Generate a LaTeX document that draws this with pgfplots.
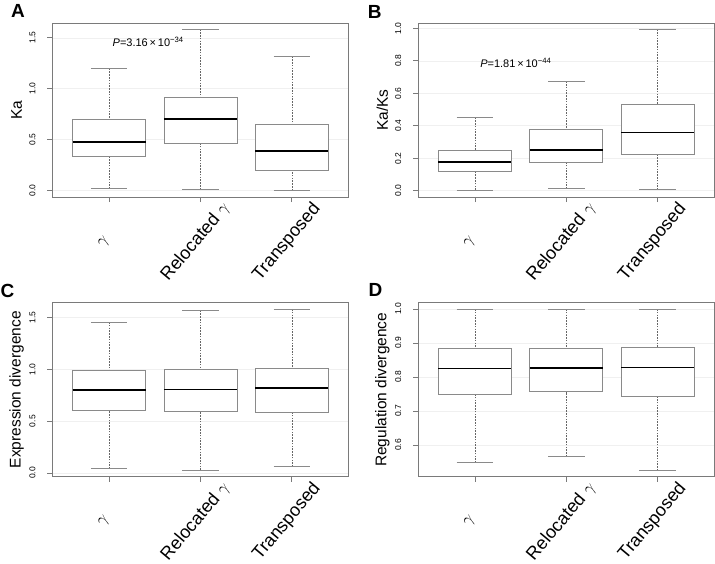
\documentclass[border=0pt]{standalone}
\usepackage{fontspec}
\setmainfont{Liberation Sans}
\usepackage{pgfplots}
\pgfplotsset{compat=1.18}
\usepgfplotslibrary{statistics}
\definecolor{framegray}{HTML}{7A7A7A}
\definecolor{boxgray}{HTML}{8A8A8A}
\definecolor{whiskgray}{HTML}{666666}
\pgfplotsset{
  boxplot/draw/lower whisker/.code={%
    \draw[whiskgray, line width=0.5pt, dash pattern=on 1.6pt off 1.2pt]
      (boxplot box cs:\pgfplotsboxplotvalue{lower whisker},0.5) --
      (boxplot box cs:\pgfplotsboxplotvalue{lower quartile},0.5);
    \draw[boxgray, line width=0.8pt]
      (boxplot whisker cs:\pgfplotsboxplotvalue{lower whisker},0) --
      (boxplot whisker cs:\pgfplotsboxplotvalue{lower whisker},1);
  },
  boxplot/draw/upper whisker/.code={%
    \draw[whiskgray, line width=0.5pt, dash pattern=on 1.6pt off 1.2pt]
      (boxplot box cs:\pgfplotsboxplotvalue{upper whisker},0.5) --
      (boxplot box cs:\pgfplotsboxplotvalue{upper quartile},0.5);
    \draw[boxgray, line width=0.8pt]
      (boxplot whisker cs:\pgfplotsboxplotvalue{upper whisker},0) --
      (boxplot whisker cs:\pgfplotsboxplotvalue{upper whisker},1);
  },
  panel/.style={
    scale only axis, width=296pt, height=174pt,
    anchor=north west,
    xmin=0.38, xmax=3.62,
    xtick={1,2,3},
    xticklabels={$\gamma$, Relocated $\gamma$, Transposed},
    axis line style={framegray, line width=0.8pt},
    tick style={framegray, line width=0.8pt},
    tick align=outside,
    major tick length=5pt,
    xtick pos=bottom, ytick pos=left,
    ymajorgrids, major grid style={gray!12, line width=0.5pt},
    tick label style={font=\fontsize{8.5}{9}\selectfont},
    xticklabel style={font=\fontsize{18}{20}\selectfont, xshift=-5pt, yshift=-40pt, rotate=50, anchor=center},
    yticklabel style={xshift=-15pt, rotate=90, anchor=center},
    /pgf/number format/.cd, fixed, fixed zerofill, precision=1, assume math mode=true, /pgfplots/.cd,
    every axis y label/.style={at={(rel axis cs:0,0.5)}, xshift=-36pt, rotate=90, anchor=center, font=\fontsize{15.5}{17}\selectfont},
    boxplot/draw direction=y,
    boxplot/box extend=0.8, boxplot/whisker extend=0.4,
    boxplot/every box/.style={draw=boxgray, fill=white, line width=0.8pt},
    boxplot/every median/.style={black, line width=1.6pt},
  },
}
\begin{document}
\begin{tikzpicture}
\useasboundingbox (0,0) rectangle (715pt,-563pt);
% Panel A
\begin{axis}[panel, at={(52.5pt,-23pt)}, ymin=-0.065, ymax=1.645, ytick={0,0.5,1,1.5}, ylabel={Ka}]
\addplot[boxplot prepared={draw position=1, lower whisker=0.016, lower quartile=0.337, median=0.478, upper quartile=0.701, upper whisker=1.196}] coordinates {};
\addplot[boxplot prepared={draw position=2, lower whisker=0.010, lower quartile=0.462, median=0.700, upper quartile=0.914, upper whisker=1.583}] coordinates {};
\addplot[boxplot prepared={draw position=3, lower whisker=0.000, lower quartile=0.197, median=0.386, upper quartile=0.645, upper whisker=1.317}] coordinates {};
\node[anchor=west, font=\fontsize{11}{12}\selectfont] at (axis cs:1.0,1.46) {\textit{P}=3.16\,×\,10\textsuperscript{−34}};
\end{axis}
% Panel B
\begin{axis}[panel, at={(418.3pt,-23pt)}, ymin=-0.039, ymax=1.033, ytick={0,0.2,0.4,0.6,0.8,1.0}, ylabel={Ka/Ks}]
\addplot[boxplot prepared={draw position=1, lower whisker=0.004, lower quartile=0.116, median=0.176, upper quartile=0.247, upper whisker=0.451}] coordinates {};
\addplot[boxplot prepared={draw position=2, lower whisker=0.012, lower quartile=0.176, median=0.252, upper quartile=0.375, upper whisker=0.674}] coordinates {};
\addplot[boxplot prepared={draw position=3, lower whisker=0.006, lower quartile=0.221, median=0.359, upper quartile=0.532, upper whisker=0.995}] coordinates {};
\node[anchor=west, font=\fontsize{11}{12}\selectfont] at (axis cs:1.02,0.79) {\textit{P}=1.81\,×\,10\textsuperscript{−44}};
\end{axis}
% Panel C
\begin{axis}[panel, at={(52.5pt,-302.7pt)}, ymin=-0.035, ymax=1.64, ytick={0,0.5,1,1.5}, ylabel={Expression divergence}]
\addplot[boxplot prepared={draw position=1, lower whisker=0.042, lower quartile=0.608, median=0.798, upper quartile=0.985, upper whisker=1.454}] coordinates {};
\addplot[boxplot prepared={draw position=2, lower whisker=0.029, lower quartile=0.598, median=0.804, upper quartile=1.000, upper whisker=1.564}] coordinates {};
\addplot[boxplot prepared={draw position=3, lower whisker=0.061, lower quartile=0.585, median=0.817, upper quartile=1.007, upper whisker=1.580}] coordinates {};
\end{axis}
% Panel D
\begin{axis}[panel, at={(418.3pt,-302.7pt)}, ymin=0.507, ymax=1.0186, ytick={0.6,0.7,0.8,0.9,1.0}, ylabel={Regulation divergence}]
\addplot[boxplot prepared={draw position=1, lower whisker=0.548, lower quartile=0.749, median=0.825, upper quartile=0.884, upper whisker=1.0}] coordinates {};
\addplot[boxplot prepared={draw position=2, lower whisker=0.566, lower quartile=0.757, median=0.827, upper quartile=0.885, upper whisker=1.0}] coordinates {};
\addplot[boxplot prepared={draw position=3, lower whisker=0.525, lower quartile=0.742, median=0.828, upper quartile=0.888, upper whisker=1.0}] coordinates {};
\end{axis}
\node[font=\fontsize{19}{20}\selectfont\bfseries] at (18pt,-11pt) {A};
\node[font=\fontsize{19}{20}\selectfont\bfseries] at (374.7pt,-12pt) {B};
\node[font=\fontsize{19}{20}\selectfont\bfseries] at (7.5pt,-291pt) {C};
\node[font=\fontsize{19}{20}\selectfont\bfseries] at (375.5pt,-290pt) {D};
\end{tikzpicture}
\end{document}
